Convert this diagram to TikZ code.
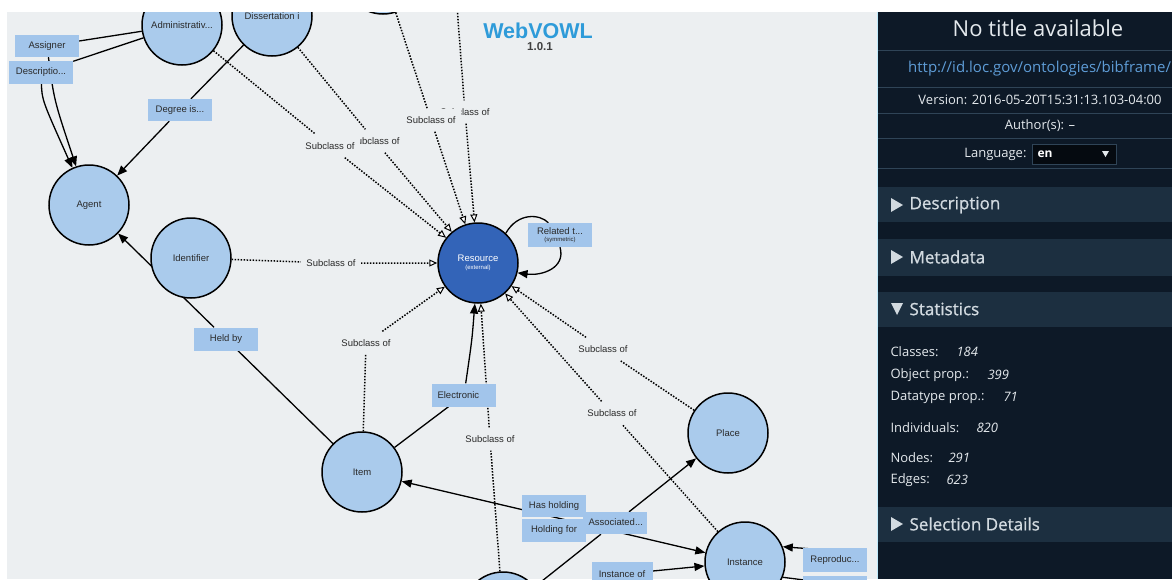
\documentclass[tikz,border=0pt]{standalone}
\usepackage{fontspec}
\newfontfamily\panelfont{Open Sans}
\newfontfamily\panelsemi{Open Sans}[FakeBold=0.9]
\newfontfamily\graphfont{Liberation Sans}
\usetikzlibrary{arrows.meta}
\definecolor{canvas}{HTML}{ECEFF1}
\definecolor{classfill}{HTML}{AACBEC}
\definecolor{extfill}{HTML}{3364B8}
\definecolor{propfill}{HTML}{A2C5EB}
\definecolor{graphtext}{HTML}{2A2A2A}
\definecolor{panelbg}{HTML}{0D1927}
\definecolor{panelband}{HTML}{1C2F40}
\definecolor{panelrule}{HTML}{2F4457}
\definecolor{paneltext}{HTML}{E4E9ED}
\definecolor{panelhead}{HTML}{D2DAE0}
\definecolor{panelurl}{HTML}{5E9CD6}
\definecolor{vowlblue}{HTML}{2E9BD9}
\pgfdeclarelayer{back}
\pgfdeclarelayer{edges}
\pgfsetlayers{back,edges,main}
\begin{document}
\begin{tikzpicture}[x=1pt,y=-1pt,
  gtext/.style={font=\graphfont\fontsize{9.5}{11}\selectfont, text=graphtext},
  cls/.style={circle, draw=black, line width=1.5pt, fill=classfill, minimum size=80pt, inner sep=0pt, gtext},
  ext/.style={cls, fill=extfill, text=white, align=center},
  prop/.style={rectangle, fill=propfill, minimum width=64pt, minimum height=22pt, inner sep=2pt, gtext},
  sublabel/.style={fill=canvas, inner xsep=5pt, inner ysep=8pt, gtext},
  sub/.style={draw=black, line width=1.5pt, dash pattern=on 1.5pt off 1.5pt, -{Triangle[length=8pt,width=7pt,fill=white,line width=1pt]}},
  rel/.style={draw=black, line width=1.3pt},
  relto/.style={rel, -{Triangle[length=10pt,width=8pt]}},
  band/.style={fill=panelband},
  ptext/.style={font=\panelfont\fontsize{13}{15}\selectfont, text=paneltext},
  phead/.style={font=\panelsemi\fontsize{17}{20}\selectfont, text=panelhead, anchor=west},
  pval/.style={font=\panelfont\itshape\fontsize{13}{15}\selectfont, text=paneltext, anchor=west},
]
\useasboundingbox (0,0) rectangle (1172,579);
\begin{pgfonlayer}{back}
  \fill[white] (0,0) rectangle (1172,579);
  \fill[canvas] (7,12) rectangle (878,579);
\end{pgfonlayer}

% ---------- classes ----------
\node[cls] (topc) at (383,-26) {};
\node[cls] (adm) at (182,25) {Administrativ...};
\node[cls] (diss) at (272,16) {Dissertation i};
\node[cls] (agent) at (89,205) {Agent};
\node[cls] (ident) at (191,258) {Identifier};
\node[ext] (res) at (478,263) {Resource\\[-3pt]{\fontsize{6}{6}\selectfont (external)}};
\node[cls] (item) at (362,472) {Item};
\node[cls] (place) at (728,433) {Place};
\node[cls] (inst) at (745,562) {Instance};
\node[cls] (bot) at (503,612) {};
\coordinate (topsrc) at (455,-20);

% ---------- subclass labels ----------
\node[sublabel] (sB) at (375,141) {Subclass of};
\node[sublabel] (sA) at (330,146) {Subclass of};
\node[sublabel] (sB2) at (465,112) {Subclass of};
\node[sublabel] (sA2) at (431,120) {Subclass of};
\node[sublabel] (sI) at (331,263) {Subclass of};
\node[sublabel] (sIt) at (366,343) {Subclass of};
\node[sublabel] (sP) at (603,349) {Subclass of};
\node[sublabel] (sIn) at (612,413) {Subclass of};
\node[sublabel] (sBot) at (490,439) {Subclass of};

% ---------- property labels ----------
\node[prop] (assigner) at (47,46) {Assigner};
\node[prop, minimum height=23pt] (descr) at (41,72) {Descriptio...};
\node[prop] (degree) at (180,110) {Degree is...};
\node[prop, minimum height=23pt] (heldby) at (226,339) {Held by};
\node[prop, minimum height=24pt, align=center] (related) at (560,235) {Related t...\\[-4pt]{\fontsize{6}{6}\selectfont (symmetric)}};
\node[prop, minimum height=23pt] (electronic) at (464,395) {};
\node[gtext, anchor=west] (electronictxt) at (434,395) {Electronic};
\node[prop] (hasholding) at (554,506) {Has holding};
\node[prop, minimum height=23pt] (holdingfor) at (554,530.5) {Holding for};
\node[prop] (assoc) at (615,523) {};
\node[gtext, anchor=west] (assoctxt) at (585,522) {Associated...};
\node[prop, minimum width=61pt, minimum height=24pt] (instof) at (622,574) {Instance of};
\node[prop, minimum height=24pt] (reprod) at (835,560) {Reproduc...};
\node[prop] (reprod2) at (835,587) {};
\coordinate (repin) at (813,549);
\coordinate (instout) at (812,581);

% ---------- edges ----------
\begin{pgfonlayer}{edges}
  % subclass relations
  \draw[sub] (adm) -- (sA) -- (res);
  \draw[sub] (diss) -- (sB) -- (res);
  \draw[sub] (topc) -- (sA2) -- (res);
  \draw[sub] (topsrc) -- (sB2) -- (res);
  \draw[sub] (ident) -- (sI) -- (res);
  \draw[sub] (item) -- (sIt) -- (res);
  \draw[sub] (bot) -- (sBot) -- (res);
  \draw[sub] (place) -- (sP) -- (res);
  \draw[sub] (inst) -- (sIn) -- (res);
  % object properties
  \draw[rel] (adm) -- (assigner);
  \draw[relto] (assigner) .. controls (54,100) .. (agent);
  \draw[rel] (adm) -- (descr);
  \draw[relto] (descr) .. controls (42,100) .. (agent);
  \draw[rel] (diss) -- (degree);
  \draw[relto] (degree) -- (agent);
  \draw[rel] (item) -- (heldby);
  \draw[relto] (heldby) -- (agent);
  \draw[rel] (item) -- (electronic);
  \draw[relto] (electronic) .. controls (472,340) .. (res);
  \draw[rel] (res.47) .. controls (518,212) and (540,214) .. (related);
  \draw[relto] (related.south) .. controls (566,268) and (542,276) .. (res.-14);
  \draw[rel, {Triangle[length=10pt,width=8pt]}-{Triangle[length=10pt,width=8pt]}] (item) -- (inst);
  \draw[rel] (bot) -- (assoc);
  \draw[relto] (assoc) -- (place);
  \draw[rel] (bot) -- (instof);
  \draw[relto] (instof) -- (inst);
  \draw[relto] (repin) -- (inst.22);
  \draw[rel] (inst.-22) -- (instout);
\end{pgfonlayer}

% ---------- title ----------
\node[font=\graphfont\bfseries\fontsize{21.5}{24}\selectfont, text=vowlblue] (vowltitle) at (538,31) {WebVOWL};
\node[font=\graphfont\bfseries\fontsize{11.5}{13}\selectfont, text=black!75] (vowlver) at (540,47) {1.0.1};

% ---------- frame ----------
\fill[white] (0,0) rectangle (1172,12);
\fill[white] (0,0) rectangle (7,579);

% ---------- side panel ----------
\fill[panelbg] (878,12) rectangle (1172,579);
\draw[line width=1.2pt, draw=cyan!25!white] (877.6,12) -- (877.6,579);
\foreach \yy in {50,87,113,138,168} \draw[panelrule, line width=1pt] (878,\yy) -- (1172,\yy);
\node[font=\panelfont\fontsize{22}{26}\selectfont, text=paneltext] (ptitle) at (1038,28) {No title available};
\node[font=\panelfont\fontsize{15}{18}\selectfont, text=panelurl, anchor=west, inner sep=0pt] (purl) at (908,69) {http://id.loc.gov/ontologies/bibframe/};
\node[ptext] (pversion) at (1040,100) {Version: 2016-05-20T15:31:13.103-04:00};
\node[ptext] (pauthor) at (1040,126) {Author(s): –};
\node[ptext, anchor=east] (plang) at (1030,154) {Language:};
\draw[fill=black!60!panelbg, draw=panelrule, line width=1pt] (1032,144) rectangle (1116,164);
\node[font=\panelfont\bfseries\fontsize{12}{14}\selectfont, text=white, anchor=west] (plangval) at (1034,154) {en};
\fill[paneltext] (1102,151) -- (1109,151) -- (1105.5,157) -- cycle;

\fill[band] (878,187) rectangle (1172,222);
\fill[band] (878,239) rectangle (1172,276);
\fill[band] (878,292) rectangle (1172,327);
\fill[band] (878,507) rectangle (1172,542);
\fill[panelhead] (891,198) -- (891,212) -- (903,205) -- cycle;
\node[phead] (hdesc) at (906,205) {Description};
\fill[panelhead] (891,250) -- (891,264) -- (903,257) -- cycle;
\node[phead] (hmeta) at (906,257) {Metadata};
\fill[panelhead] (891,303) -- (903,303) -- (897,315) -- cycle;
\node[phead] (hstat) at (906,309) {Statistics};
\fill[panelhead] (891,517) -- (891,531) -- (903,524) -- cycle;
\node[phead] (hsel) at (906,524) {Selection Details};

\node[ptext, anchor=west] (sclasses) at (887,352) {Classes:};
\node[pval] at (953,352) {184};
\node[ptext, anchor=west] (sobj) at (887,375) {Object prop.:};
\node[pval] at (984,375) {399};
\node[ptext, anchor=west] (sdt) at (887,397) {Datatype prop.:};
\node[pval] at (1000,397) {71};
\node[ptext, anchor=west] (sind) at (887,428) {Individuals:};
\node[pval] at (973,428) {820};
\node[ptext, anchor=west] (snodes) at (887,458) {Nodes:};
\node[pval] at (945,458) {291};
\node[ptext, anchor=west] (sedges) at (887,480) {Edges:};
\node[pval] at (943,480) {623};
\end{tikzpicture}
\end{document}
